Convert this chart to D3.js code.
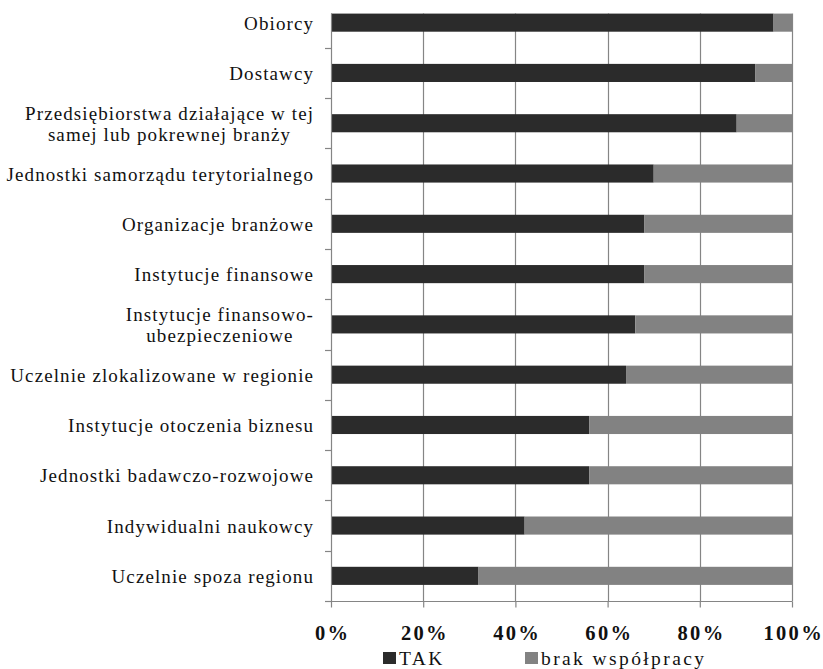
<!DOCTYPE html>
<html>
<head>
<meta charset="utf-8">
<script src="https://cdn.jsdelivr.net/npm/d3@7/dist/d3.min.js"></script>
<style>
  html, body { margin: 0; padding: 0; background: #ffffff; }
  svg { display: block; }
</style>
</head>
<body>
<svg id="chart" width="823" height="669"></svg>
<script>
// ---- data ----
const categories = [
  "Obiorcy",
  "Dostawcy",
  "Przedsiębiorstwa działające w tej\nsamej lub pokrewnej branży",
  "Jednostki samorządu terytorialnego",
  "Organizacje branżowe",
  "Instytucje finansowe",
  "Instytucje finansowo-\nubezpieczeniowe",
  "Uczelnie zlokalizowane w regionie",
  "Instytucje otoczenia biznesu",
  "Jednostki badawczo-rozwojowe",
  "Indywidualni naukowcy",
  "Uczelnie spoza regionu"
];
const takValues  = [96, 92, 88, 70, 68, 68, 66, 64, 56, 56, 42, 32];
const brakValues = [4, 8, 12, 30, 32, 32, 34, 36, 44, 44, 58, 68];
const seriesNames = ["TAK", "brak współpracy"];
const seriesColors = ["#2b2b2b", "#828282"];
const xTickValues = [0, 20, 40, 60, 80, 100];

// ---- layout ----
const svg = d3.select("#chart");
const left = 331, right = 792;
const bandTop = -2.5, bandBottom = 601;
const gridColor = "#858585";

const x = d3.scaleLinear().domain([0, 100]).range([left, right]);
const y = d3.scaleBand().domain(categories).range([bandTop, bandBottom])
  .paddingInner(0.64).paddingOuter(0.32);
const step = y.step();
const plotTop = y(categories[0]);

svg.append("rect").attr("width", 823).attr("height", 669).attr("fill", "#fff");

// gridlines
svg.append("g").selectAll("line").data(xTickValues.filter(d => d > 0)).join("line")
  .attr("x1", d => Math.round(x(d)) + 0.5).attr("x2", d => Math.round(x(d)) + 0.5)
  .attr("y1", plotTop).attr("y2", bandBottom)
  .attr("stroke", gridColor).attr("stroke-width", 1.2);

// stacked bars
const stackData = categories.map((c, i) => ({cat: c, TAK: takValues[i], brak: brakValues[i]}));
const stack = d3.stack().keys(["TAK", "brak"])(stackData);
svg.append("g").selectAll("g").data(stack).join("g")
  .attr("fill", (d, i) => seriesColors[i])
  .selectAll("rect").data(d => d).join("rect")
  .attr("x", d => x(d[0]))
  .attr("width", d => x(d[1]) - x(d[0]))
  .attr("y", d => y(d.data.cat))
  .attr("height", y.bandwidth());

// y axis line and ticks at band boundaries
const yAxis = svg.append("g").attr("stroke", gridColor).attr("stroke-width", 1.2);
yAxis.append("line").attr("x1", left + 0.5).attr("x2", left + 0.5)
  .attr("y1", plotTop).attr("y2", bandBottom);
const boundaries = d3.range(1, categories.length + 1).map(k => bandTop + k * step);
yAxis.selectAll("line.tick").data(boundaries).join("line").attr("class", "tick")
  .attr("x1", left - 6).attr("x2", left + 0.5)
  .attr("y1", d => Math.round(d) + 0.5).attr("y2", d => Math.round(d) + 0.5);

// x axis
const xAxisG = svg.append("g").attr("transform", `translate(0,${Math.round(bandBottom) + 0.5})`);
xAxisG.call(d3.axisBottom(x).tickValues(xTickValues).tickSize(6).tickSizeOuter(0)
  .tickFormat(d => d + "%"));
xAxisG.select(".domain").remove();
xAxisG.selectAll(".tick line").attr("stroke", gridColor).attr("stroke-width", 1.2);
xAxisG.append("line").attr("x1", left).attr("x2", right + 0.5).attr("y1", 0).attr("y2", 0)
  .attr("stroke", gridColor).attr("stroke-width", 1.2);
xAxisG.selectAll(".tick text")
  .attr("font-family", "'Liberation Serif', 'Times New Roman', serif")
  .attr("font-size", "20.5px").attr("font-weight", "bold")
  .attr("letter-spacing", "2.3px")
  .attr("fill", "#111").attr("y", 0).attr("dy", null)
  .attr("transform", "translate(1.2,38)");

// category labels
const labelRight = 313.5;
const lineH = 21.7;
const labelG = svg.append("g")
  .attr("font-family", "'Liberation Serif', 'Times New Roman', serif")
  .attr("font-size", "19px").attr("letter-spacing", "1.1px").attr("fill", "#111");
categories.forEach(c => {
  const lines = c.split("\n");
  const cy = y(c) + y.bandwidth() / 2;
  const base0 = cy + 7.2 - (lines.length - 1) * lineH / 2;
  const texts = lines.map((ln, j) => labelG.append("text")
    .attr("y", base0 + j * lineH).attr("text-anchor", "middle").text(ln));
  const widths = texts.map(t => t.node().getComputedTextLength());
  const maxW = d3.max(widths);
  texts.forEach(t => t.attr("x", labelRight - maxW / 2 + 0.55));
});

// legend
const legendItems = [{x: 383}, {x: 525}];
const legG = svg.append("g");
seriesNames.forEach((name, i) => {
  legG.append("rect").attr("x", legendItems[i].x).attr("y", 652)
    .attr("width", 13).attr("height", 12).attr("fill", seriesColors[i]);
  legG.append("text").attr("x", legendItems[i].x + 16).attr("y", 664.5)
    .attr("font-family", "'Liberation Serif', 'Times New Roman', serif")
    .attr("font-size", "19.5px").attr("letter-spacing", "2.4px").attr("fill", "#111")
    .text(name);
});
</script>
</body>
</html>
